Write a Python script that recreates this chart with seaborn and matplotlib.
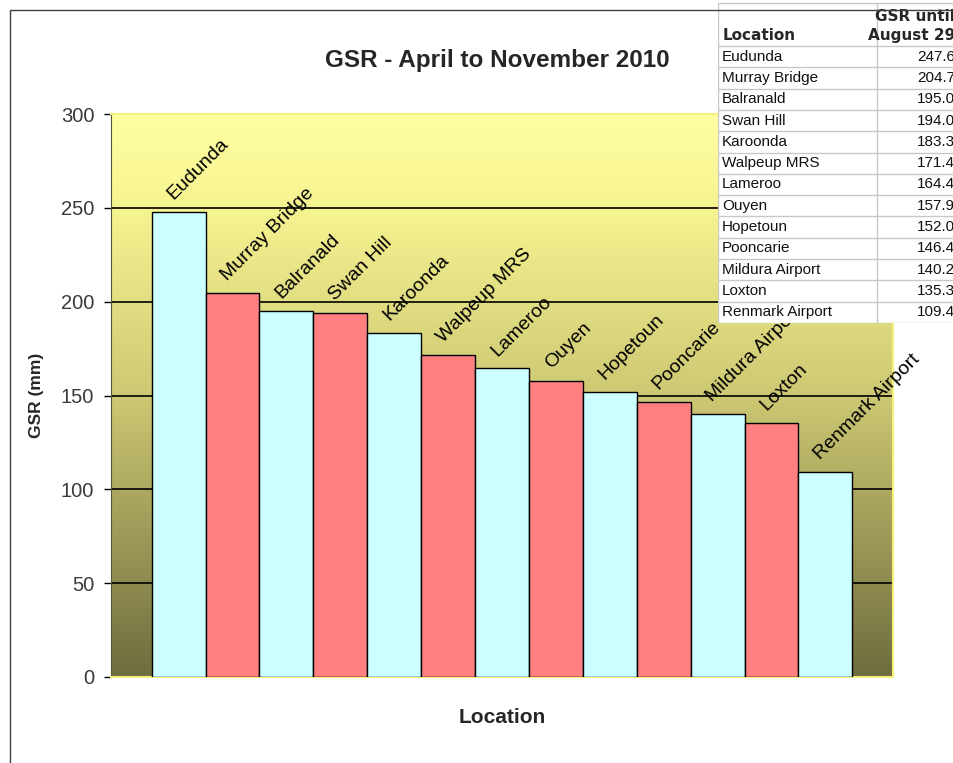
import numpy as np
import pandas as pd
import matplotlib
matplotlib.use('Agg')
import matplotlib.pyplot as plt
from matplotlib.patches import Rectangle
import seaborn as sns

# Datos del grafico
locations = ['Eudunda', 'Murray Bridge', 'Balranald', 'Swan Hill', 'Karoonda',
             'Walpeup MRS', 'Lameroo', 'Ouyen', 'Hopetoun', 'Pooncarie',
             'Mildura Airport', 'Loxton', 'Renmark Airport']
gsr = [247.6, 204.7, 195.0, 194.0, 183.3, 171.4, 164.4, 157.9, 152.0, 146.4,
       140.2, 135.3, 109.4]
yticks = [0, 50, 100, 150, 200, 250, 300]
title = 'GSR - April to November 2010'
table_head = ['Location', 'GSR until\nAugust 29']

df = pd.DataFrame({'Location': locations, 'GSR': gsr})

sns.set_style('white')
plt.rcParams['font.family'] = ['Liberation Sans', 'DejaVu Sans']

W, H = 954, 763
fig = plt.figure(figsize=(W / 100, H / 100), dpi=100)
fig.patch.set_facecolor('white')

# borde exterior del grafico (se sale por derecha y abajo)
fig.patches.append(Rectangle((10 / W, -0.2), 2, (H - 10) / H + 0.2,
                             transform=fig.transFigure, fill=False,
                             edgecolor='#404040', linewidth=1.0))

# area del grafico
ax = fig.add_axes([111 / W, 1 - 677 / H, (893 - 111) / W, (677 - 114) / H])

# fondo degradado amarillo -> oliva
stops = np.array([0.0, 0.5, 0.83, 1.0])
cols = np.array([[110, 108, 62], [205, 200, 115], [246, 243, 145], [255, 255, 160]]) / 255
t = np.linspace(0, 1, 256)
grad = np.stack([np.interp(t, stops, cols[:, c]) for c in range(3)], axis=1)
grad = grad[::-1][:, None, :]
ax.imshow(grad, extent=[0, 1, 0, 1], transform=ax.transAxes, aspect='auto',
          zorder=0, interpolation='bilinear')

bar_colours = ['#CCFFFF' if i % 2 == 0 else '#FF8080' for i in range(len(locations))]
sns.barplot(data=df, x='Location', y='GSR', hue='Location', order=locations,
            hue_order=locations, palette=bar_colours, saturation=1, legend=False,
            width=1.0, edgecolor='black', linewidth=1.0, ax=ax, zorder=3)

# etiquetas de datos rotadas
for i, (loc, v) in enumerate(zip(locations, gsr)):
    ax.annotate(loc, xy=(i, v), xytext=(-3.6, 8.6), textcoords='offset points',
                rotation=45, rotation_mode='anchor', ha='left', va='baseline',
                fontsize=14, color='black', zorder=4)

ax.set_xlim(-1.255, len(locations) - 1 + 1.255)
ax.set_ylim(0, 300)
ax.set_yticks(yticks)
ax.set_xticks([])
ax.set_axisbelow(True)
ax.yaxis.grid(True, color='black', linewidth=1.2)
ax.xaxis.grid(False)
for s in ['top', 'right', 'bottom']:
    ax.spines[s].set_color('#F5F07A')
    ax.spines[s].set_linewidth(1.5)
ax.spines['left'].set_color('#555533')
ax.spines['left'].set_linewidth(0.8)
ax.tick_params(axis='y', which='both', left=True, length=5, width=1.0,
               color='black', labelsize=14.5, labelcolor='#3a3a3a', pad=7)
ax.set_xlabel('Location', fontsize=15, fontweight='bold', labelpad=22)
ax.set_ylabel('GSR (mm)', fontsize=12.5, fontweight='bold', labelpad=12)
fig.text(497 / W, 1 - 60 / H, title, ha='center', va='center',
         fontsize=17.5, fontweight='bold')

# tabla superpuesta arriba a la derecha
tx = fig.add_axes([718 / W, 1 - 323 / H, (965 - 718) / W, 323 / H])
tx.set_xlim(718, 965)
tx.set_ylim(323, 0)
tx.axis('off')
tx.add_patch(Rectangle((718, 3), 300, 320, facecolor='white', edgecolor='none'))
grid_c = '#C8C8C8'
head_bot = 46
row_h = (323 - head_bot) / len(locations)
for k in range(len(locations) + 1):
    y = head_bot + k * row_h
    tx.plot([718, 965], [y, y], color=grid_c, lw=1)
tx.plot([718, 965], [3, 3], color=grid_c, lw=1)
tx.plot([718, 718], [3, 323], color=grid_c, lw=1)
tx.plot([877, 877], [3, 323], color=grid_c, lw=1)
tx.text(723, head_bot - 3, table_head[0], ha='left', va='bottom',
        fontsize=11, fontweight='bold', family='DejaVu Sans')
tx.text(955, head_bot - 3, table_head[1], ha='right', va='bottom',
        fontsize=11, fontweight='bold', family='DejaVu Sans',
        linespacing=1.3)
for k, (loc, v) in enumerate(zip(locations, gsr)):
    yc = head_bot + (k + 0.5) * row_h
    tx.text(722, yc, loc, ha='left', va='center', fontsize=11, color='#111111')
    tx.text(955, yc, f'{v:.1f}', ha='right', va='center', fontsize=11,
            color='#111111')

fig.savefig('out.png', dpi=100)
